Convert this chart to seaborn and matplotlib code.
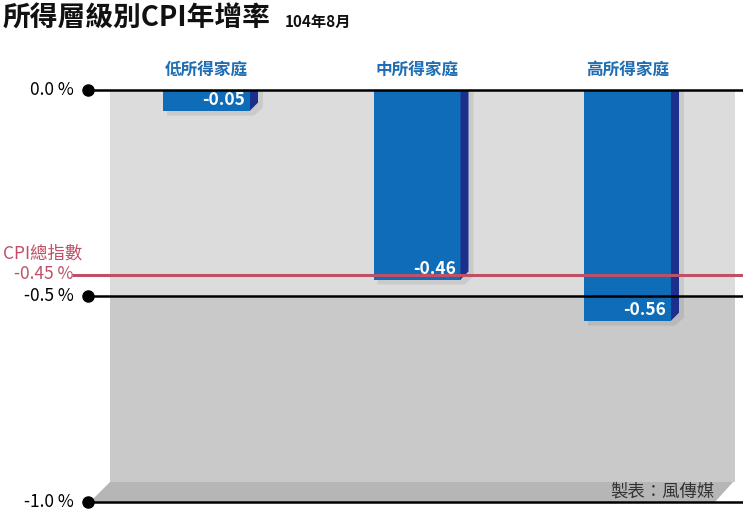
import numpy as np
import pandas as pd
import matplotlib
matplotlib.use('Agg')
import matplotlib.pyplot as plt
import seaborn as sns
from matplotlib.patches import Polygon

# data
categories = ['低所得家庭', '中所得家庭', '高所得家庭']
values = [-0.05, -0.46, -0.56]
cpi_total = -0.45
tick_values = [0.0, -0.5, -1.0]
tick_labels = ['0.0 %', '-0.5 %', '-1.0 %']

FRONT = '#0f6cb8'
SIDE = '#1b2f8c'
LABEL_BLUE = '#1f6db2'
CPI_RED = '#be5067'

sns.set_theme(style='white')
plt.rcParams['font.family'] = ['Noto Sans CJK TC', 'DejaVu Sans']

W, H = 743, 514
fig = plt.figure(figsize=(W / 100, H / 100), dpi=100)

# background 3D box in pixel coordinates
bg = fig.add_axes([0, 0, 1, 1])
bg.set_xlim(0, W)
bg.set_ylim(H, 0)
bg.axis('off')
bg.add_patch(Polygon([(110, 90), (735, 90), (735, 296), (110, 296)], closed=True,
                     facecolor='#dcdcdc', edgecolor='none'))
bg.add_patch(Polygon([(110, 296), (735, 296), (735, 482), (110, 482)], closed=True,
                     facecolor='#c9c9c9', edgecolor='none'))
bg.add_patch(Polygon([(90, 502), (110, 482), (733, 482), (715, 502)], closed=True,
                     facecolor='#b6b6b6', edgecolor='none'))

# main axes: y=0 at pixel 90, y=-1 at pixel 502; bars at pixel 206.5 + i*210.5
ppu_y = 412.0
ppu_x = 210.5
x0 = 206.5
ax = fig.add_axes([0, 0, 1, 1])
ax.patch.set_alpha(0)

df = pd.DataFrame({'group': categories, 'value': values})
sns.barplot(data=df, x='group', y='value', color=FRONT, saturation=1,
            width=87 / ppu_x, ax=ax, zorder=3, edgecolor='none', linewidth=0)
ax.set_ylim(-(H - 90) / ppu_y, 90 / ppu_y)
ax.set_xlim(-x0 / ppu_x, (W - x0) / ppu_x)
ax.axis('off')

dx = 8 / ppu_x
dy = 8 / ppu_y
for p, v, name in zip(list(ax.patches), values, categories):
    x1 = p.get_x() + p.get_width()
    bottom = p.get_y() + p.get_height()
    xc = p.get_x() + p.get_width() / 2
    # soft shadow
    ax.add_patch(Polygon([(p.get_x() + 4 / ppu_x, 0), (x1 + dx + 5 / ppu_x, 0),
                          (x1 + dx + 5 / ppu_x, bottom + dy - 5 / ppu_y),
                          (x1 + 4 / ppu_x, bottom - 5 / ppu_y),
                          (p.get_x() + 4 / ppu_x, bottom - 5 / ppu_y)],
                         closed=True, facecolor='#000000', alpha=0.08,
                         edgecolor='none', zorder=2))
    ax.add_patch(Polygon([(x1, 0), (x1 + dx, 0), (x1 + dx, bottom + dy), (x1, bottom)],
                         closed=True, facecolor=SIDE, edgecolor='none', zorder=3))
    ax.text(x1 - 5 / ppu_x, bottom + 6 / ppu_y, f'{v:.2f}', color='white',
            fontsize=12.5, fontweight='bold', ha='right', va='baseline', zorder=5)
    ax.text(xc, 20 / ppu_y, name, color=LABEL_BLUE, fontsize=12, fontweight='bold',
            ha='center', va='center', zorder=5)

# gridlines with dot markers
x_line0 = (88 - x0) / ppu_x
x_end = (W - x0) / ppu_x
for tv, tl in zip(tick_values, tick_labels):
    ax.plot([x_line0, x_end], [tv, tv], color='black', lw=1.8, zorder=4,
            solid_capstyle='butt')
    ax.plot([x_line0], [tv], marker='o', ms=8, color='black', zorder=4)
    ax.text((74 - x0) / ppu_x, tv, tl, ha='right', va='center', fontsize=12.5,
            color='black', zorder=5)

# CPI total line
ax.plot([(72 - x0) / ppu_x, x_end], [cpi_total, cpi_total], color=CPI_RED, lw=2.2,
        zorder=4, solid_capstyle='butt')
ax.text((73 - x0) / ppu_x, cpi_total + 1 / ppu_y, f'{cpi_total:.2f} %', color=CPI_RED,
        fontsize=12.5, ha='right', va='center', zorder=5)
ax.text((82 - x0) / ppu_x, cpi_total + 22 / ppu_y, 'CPI總指數', color=CPI_RED,
        fontsize=12.5, ha='right', va='center', zorder=5)

# title and source
fig.text(3 / W, 1 - 19 / H, '所得層級別CPI年增率', fontsize=20, fontweight='bold',
         ha='left', va='center', color='#111111')
fig.text(285 / W, 1 - 22 / H, '104年8月', fontsize=11, fontweight='bold',
         ha='left', va='center', color='#111111')
fig.text(715 / W, 1 - 492 / H, '製表：風傳媒', fontsize=12.5, ha='right', va='center',
         color='#333333')

fig.savefig('out.png', dpi=100)
